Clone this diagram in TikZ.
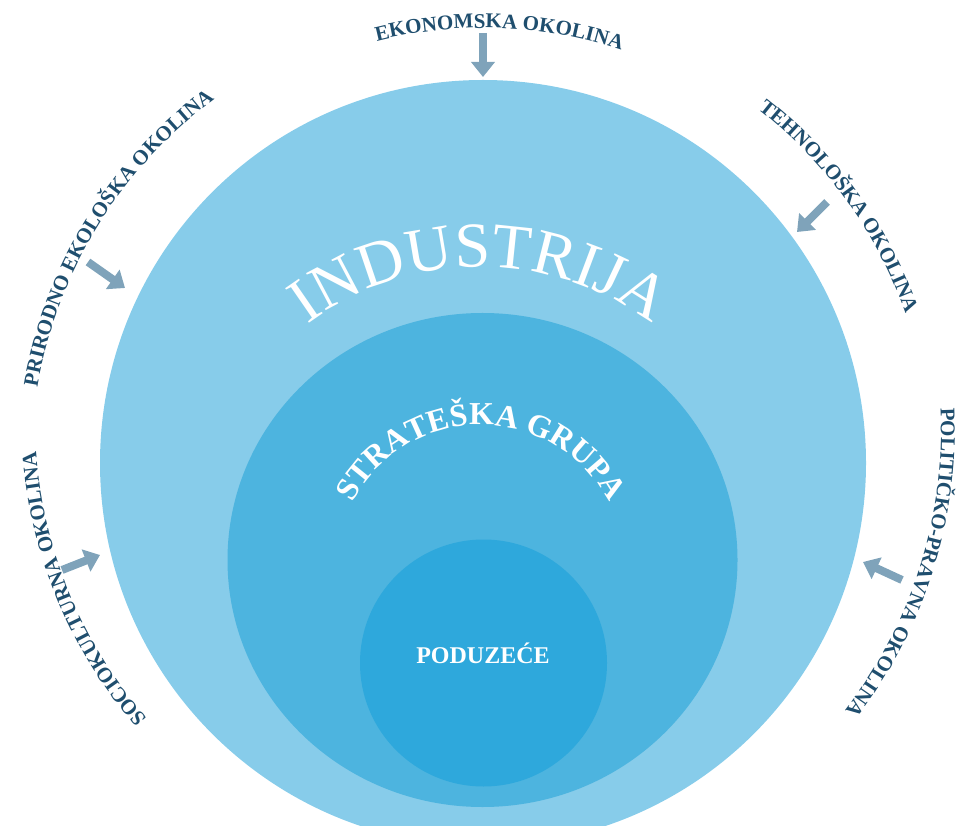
\documentclass[tikz,border=0pt]{standalone}
\usepackage{fontspec}
\setmainfont{Liberation Serif}
\usetikzlibrary{decorations.text,arrows.meta,shapes.geometric}
\definecolor{ringA}{HTML}{87CCEA}
\definecolor{ringB}{HTML}{4DB4DF}
\definecolor{ringC}{HTML}{2EA8DC}
\definecolor{arrowc}{HTML}{7FA3BA}
\definecolor{labelc}{HTML}{1F4E6E}
\newcommand\lblfont{\bfseries\fontsize{21}{21}\selectfont}
\newcommand\indfont{\fontsize{64}{64}\selectfont}
\newcommand\grpfont{\bfseries\fontsize{32}{32}\selectfont}
\begin{document}
\begin{tikzpicture}[x=1pt,y=1pt,
  envarrow/.style={line width=8pt, draw=arrowc, -{Triangle[length=15pt,width=23pt]}},
  envlabel/.style={decorate, decoration={text along path, text align=center, text color=labelc, text={|\lblfont|#1}}},
  whitearc/.style 2 args={decorate, decoration={text along path, text align=center, text color=white, text={|#1|#2}}}
]
\useasboundingbox (0,0) rectangle (960,825);
\begin{scope}
  \clip (0,0) rectangle (960,825);
  \node[circle, fill=ringA, minimum size=766pt, inner sep=0pt] (industrija) at (483,362) {};
\end{scope}
\node[ellipse, fill=ringB, minimum width=510pt, minimum height=494pt, inner sep=0pt] (grupa) at (482.5,265) {};
\node[circle, fill=ringC, minimum size=247pt, inner sep=0pt] (poduzece) at (483.5,162) {};
\node[anchor=base, text=white, font=\bfseries\fontsize{24}{24}\selectfont, inner sep=0pt] (poduzeceLbl) at (483,162) {PODUZEĆE};

% curved inner titles
\path[whitearc={\indfont}{INDUSTRIJA}] ([shift={(150:288)}]480,270) arc[start angle=150, end angle=30, radius=288];
\path[whitearc={\grpfont}{STRATEŠKA GRUPA}] ([shift={(170:145)}]481,255) arc[start angle=170, end angle=10, radius=145];

% environment labels
\path[envlabel={EKONOMSKA OKOLINA}] ([shift={(112.8:435)}]483,362) arc[start angle=112.8, end angle=62.8, radius=435];
\path[envlabel={PRIRODNO EKOLOŠKA OKOLINA}] ([shift={(183.4:452)}]483,362) arc[start angle=183.4, end angle=113.4, radius=452];
\path[envlabel={TEHNOLOŠKA OKOLINA}] ([shift={(65.8:448)}]483,362) arc[start angle=65.8, end angle=5.8, radius=448];
\path[envlabel={SOCIOKULTURNA OKOLINA}] ([shift={(232.5:455)}]490,405) arc[start angle=232.5, end angle=172.5, radius=455];
\path[envlabel={POLITIČKO-PRAVNA OKOLINA}] ([shift={(17.5:458)}]483,395) arc[start angle=17.5, end angle=-52.5, radius=458];

% arrows
\coordinate (ekoT) at (483,792);  \coordinate (ekoH) at (483,748);
\coordinate (priT) at (88,563);   \coordinate (priH) at (125,537);
\coordinate (tehT) at (827,623);  \coordinate (tehH) at (797,593);
\coordinate (socT) at (62,255);   \coordinate (socH) at (100,270);
\coordinate (polT) at (902,245);  \coordinate (polH) at (863,263);
\draw[envarrow] (ekoT) -- (ekoH);
\draw[envarrow] (priT) -- (priH);
\draw[envarrow] (tehT) -- (tehH);
\draw[envarrow] (socT) -- (socH);
\draw[envarrow] (polT) -- (polH);
\end{tikzpicture}
\end{document}
